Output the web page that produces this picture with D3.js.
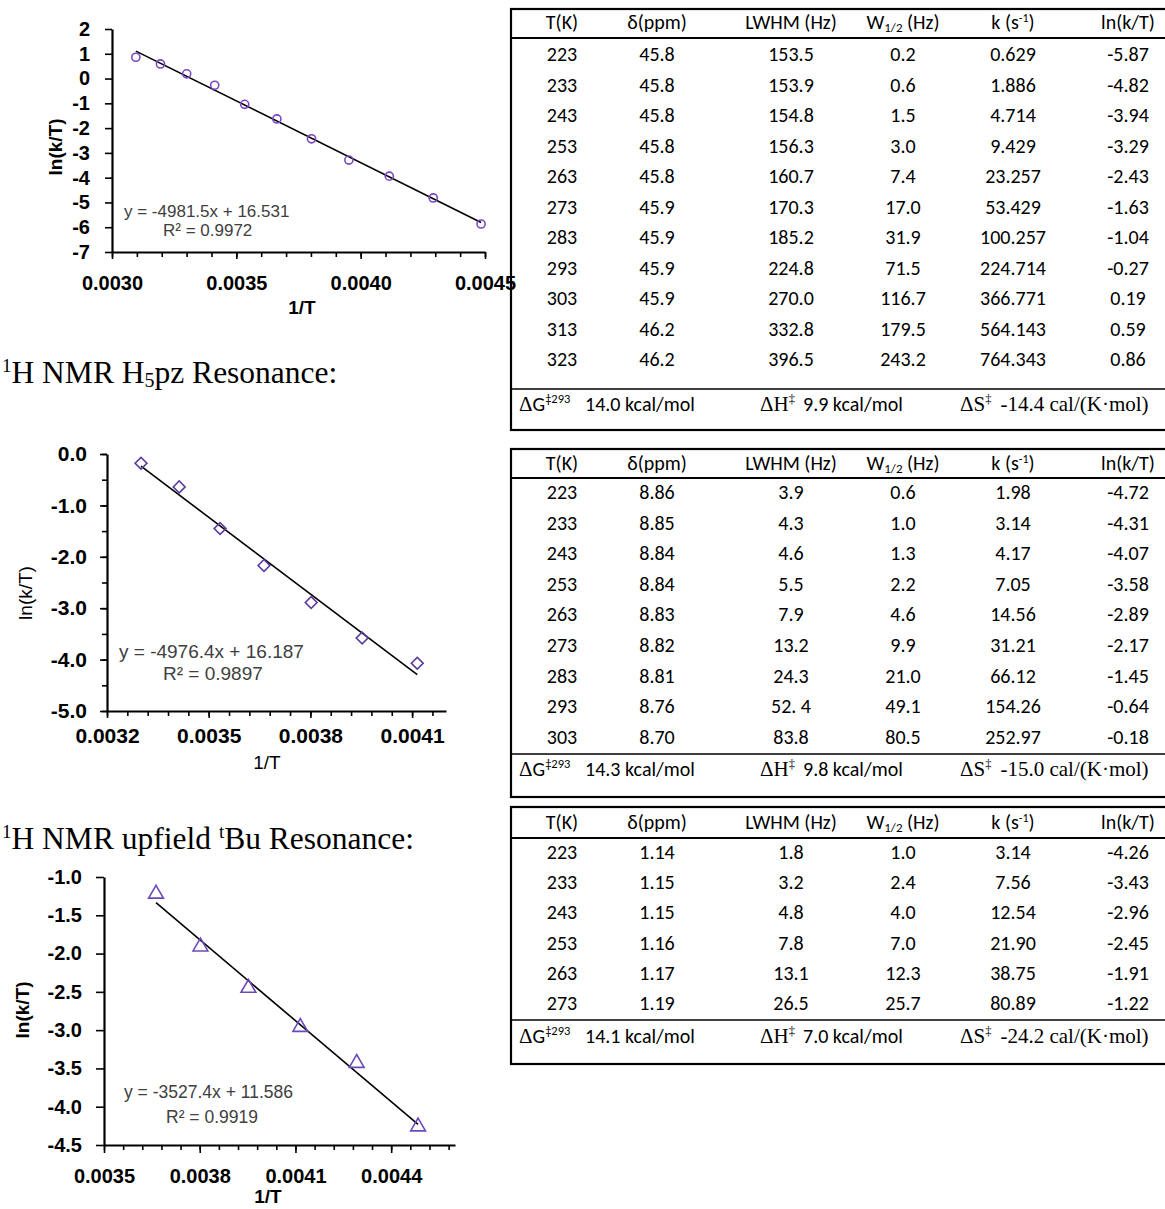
<!DOCTYPE html>
<html>
<head>
<meta charset="utf-8">
<script src="https://cdn.jsdelivr.net/npm/d3@7"></script>
<style>
  body { margin: 0; background: #fff; }
  svg { display: block; }
</style>
</head>
<body>
<div id="chart"></div>
<script>
var w = 1165,
	h = 1209;

// ---- plot data (1/T from temperature, y = ln(k/T)) ----
var plot1T = [323, 313, 303, 293, 283, 273, 263, 253, 243, 233, 223];
var plot1Y = [0.86, 0.59, 0.19, -0.27, -1.04, -1.63, -2.43, -3.29, -3.94, -4.82, -5.87];
var plot2T = [303, 293, 283, 273, 263, 253, 243];
var plot2Y = [-0.18, -0.64, -1.45, -2.17, -2.89, -3.58, -4.07];
var plot3T = [273, 263, 253, 243, 233, 223];
var plot3Y = [-1.22, -1.91, -2.45, -2.96, -3.43, -4.26];

// trendline coefficients as printed on the charts
var fit1 = [-4981.5, 16.531];
var fit2 = [-4976.4, 16.187];
var fit3 = [-3527.4, 11.586];
var eq1 = ["y = -4981.5x + 16.531", "R\u00B2 = 0.9972"];
var eq2 = ["y = -4976.4x + 16.187", "R\u00B2 = 0.9897"];
var eq3 = ["y = -3527.4x + 11.586", "R\u00B2 = 0.9919"];

// tick labels
var x1Ticks = ["0.0030", "0.0035", "0.0040", "0.0045"];
var y1Ticks = ["2", "1", "0", "-1", "-2", "-3", "-4", "-5", "-6", "-7"];
var x2Ticks = ["0.0032", "0.0035", "0.0038", "0.0041"];
var y2Ticks = ["0.0", "-1.0", "-2.0", "-3.0", "-4.0", "-5.0"];
var x3Ticks = ["0.0035", "0.0038", "0.0041", "0.0044"];
var y3Ticks = ["-1.0", "-1.5", "-2.0", "-2.5", "-3.0", "-3.5", "-4.0", "-4.5"];

// ---- table data ----
var tab1T = ["223", "233", "243", "253", "263", "273", "283", "293", "303", "313", "323"];
var tab1Shift = ["45.8", "45.8", "45.8", "45.8", "45.8", "45.9", "45.9", "45.9", "45.9", "46.2", "46.2"];
var tab1Lwhm = ["153.5", "153.9", "154.8", "156.3", "160.7", "170.3", "185.2", "224.8", "270.0", "332.8", "396.5"];
var tab1Whalf = ["0.2", "0.6", "1.5", "3.0", "7.4", "17.0", "31.9", "71.5", "116.7", "179.5", "243.2"];
var tab1K = ["0.629", "1.886", "4.714", "9.429", "23.257", "53.429", "100.257", "224.714", "366.771", "564.143", "764.343"];
var tab1Ln = ["-5.87", "-4.82", "-3.94", "-3.29", "-2.43", "-1.63", "-1.04", "-0.27", "0.19", "0.59", "0.86"];
var tab1Thermo = ["14.0 kcal/mol", "9.9 kcal/mol", "-14.4 cal/(K\u00B7mol)"];

var tab2T = ["223", "233", "243", "253", "263", "273", "283", "293", "303"];
var tab2Shift = ["8.86", "8.85", "8.84", "8.84", "8.83", "8.82", "8.81", "8.76", "8.70"];
var tab2Lwhm = ["3.9", "4.3", "4.6", "5.5", "7.9", "13.2", "24.3", "52. 4", "83.8"];
var tab2Whalf = ["0.6", "1.0", "1.3", "2.2", "4.6", "9.9", "21.0", "49.1", "80.5"];
var tab2K = ["1.98", "3.14", "4.17", "7.05", "14.56", "31.21", "66.12", "154.26", "252.97"];
var tab2Ln = ["-4.72", "-4.31", "-4.07", "-3.58", "-2.89", "-2.17", "-1.45", "-0.64", "-0.18"];
var tab2Thermo = ["14.3 kcal/mol", "9.8 kcal/mol", "-15.0 cal/(K\u00B7mol)"];

var tab3T = ["223", "233", "243", "253", "263", "273"];
var tab3Shift = ["1.14", "1.15", "1.15", "1.16", "1.17", "1.19"];
var tab3Lwhm = ["1.8", "3.2", "4.8", "7.8", "13.1", "26.5"];
var tab3Whalf = ["1.0", "2.4", "4.0", "7.0", "12.3", "25.7"];
var tab3K = ["3.14", "7.56", "12.54", "21.90", "38.75", "80.89"];
var tab3Ln = ["-4.26", "-3.43", "-2.96", "-2.45", "-1.91", "-1.22"];
var tab3Thermo = ["14.1 kcal/mol", "7.0 kcal/mol", "-24.2 cal/(K\u00B7mol)"];

var sansFont = "'Liberation Sans', Arial, sans-serif";
var tableFont = "Carlito, 'Liberation Sans Narrow', 'DejaVu Sans Condensed', sans-serif";
var serifFont = "'Liberation Serif', 'Times New Roman', serif";

var root = d3.select("#chart").append("svg").attr("width", w).attr("height", h)
	.style("background", "#fff");

function drawChart(o) {
	var g = root.append("g");
	var x = d3.scaleLinear().domain(o.xDomain).range([o.left, o.right]);
	var y = d3.scaleLinear().domain(o.yDomain).range([o.bottom, o.top]);

	// minor ticks first
	if (o.xMinor) {
		var n = Math.round((o.xDomain[1] - o.xDomain[0]) / o.xMinor);
		var xm = d3.range(0, n + 1).map(function(i) { return o.xMinor0 + i * o.xMinor; })
			.filter(function(v) { return v <= o.xDomain[1] + 1e-9; });
		g.append("g").attr("transform", "translate(0," + o.bottom + ")")
			.call(d3.axisBottom(x).tickValues(xm).tickSize(o.minorLen).tickFormat(""))
			.call(function(a) { a.select(".domain").remove(); a.selectAll("line").attr("stroke-width", 1.6); });
	}
	if (o.yMinor) {
		var m = Math.round((o.yDomain[1] - o.yDomain[0]) / o.yMinor);
		var ym = d3.range(0, m + 1).map(function(i) { return o.yDomain[0] + i * o.yMinor; });
		g.append("g").attr("transform", "translate(" + o.left + ",0)")
			.call(d3.axisLeft(y).tickValues(ym).tickSize(o.minorLen).tickFormat(""))
			.call(function(a) { a.select(".domain").remove(); a.selectAll("line").attr("stroke-width", 1.6); });
	}

	var xa = g.append("g").attr("transform", "translate(0," + o.bottom + ")")
		.call(d3.axisBottom(x).tickValues(o.xTicks.map(Number)).tickSize(o.majorLen)
			.tickSizeOuter(0).tickPadding(o.xPad)
			.tickFormat(function(d, i) { return o.xTicks[i]; }));
	var ya = g.append("g").attr("transform", "translate(" + o.left + ",0)")
		.call(d3.axisLeft(y).tickValues(o.yTicks.map(Number)).tickSize(o.majorLen)
			.tickSizeOuter(0).tickPadding(o.yPad)
			.tickFormat(function(d, i) { return o.yTicks[i]; }));
	[xa, ya].forEach(function(a) {
		a.select(".domain").attr("stroke-width", 2.2);
		a.selectAll("line").attr("stroke-width", 1.6);
		a.selectAll("text").style("font-family", o.tickFont).style("font-size", o.tickSize + "px")
			.style("font-weight", "bold").attr("fill", "#000");
	});

	// axis titles
	g.append("text").attr("x", o.xTitle[0]).attr("y", o.xTitle[1]).attr("text-anchor", "middle")
		.attr("dy", "0.35em").style("font-family", o.tickFont).style("font-size", o.titleSize + "px")
		.style("font-weight", o.titleWeight).text("1/T");
	g.append("text").attr("transform", "translate(" + o.yTitle[0] + "," + o.yTitle[1] + ") rotate(-90)")
		.attr("text-anchor", "middle").attr("dy", "0.35em").style("font-family", o.tickFont)
		.style("font-size", o.titleSize + "px").style("font-weight", o.titleWeight).text("ln(k/T)");

	// trendline from first to last point
	var xs = o.temps.map(function(t) { return 1 / t; });
	var x0 = d3.min(xs), x1 = d3.max(xs);
	g.append("line").attr("x1", x(x0)).attr("y1", y(o.fit[0] * x0 + o.fit[1]))
		.attr("x2", x(x1)).attr("y2", y(o.fit[0] * x1 + o.fit[1]))
		.style("stroke", "#000").style("stroke-width", 1.6);

	// markers
	var sym = d3.symbol().type(o.symbol).size(o.symbolSize);
	g.selectAll(".pt").data(o.values).enter().append("path")
		.attr("d", sym)
		.attr("transform", function(d, i) {
			return "translate(" + x(xs[i]) + "," + y(d) + ")" + (o.rotate ? " rotate(45)" : "");
		})
		.style("fill", "none").style("stroke", o.color).style("stroke-width", 1.6);

	// equation text
	g.append("text").attr("x", o.eqPos[0]).attr("y", o.eqPos[1]).style("font-family", o.eqFont)
		.style("font-size", o.eqSize + "px").attr("fill", "#404040").text(o.eq[0]);
	g.append("text").attr("x", o.eqPos[2]).attr("y", o.eqPos[3]).style("font-family", o.eqFont)
		.style("font-size", o.eqSize + "px").attr("fill", "#404040").text(o.eq[1]);
}

drawChart({
	left: 112, right: 485, top: 29, bottom: 252,
	xDomain: [0.0030, 0.0045], yDomain: [-7, 2],
	xTicks: x1Ticks, yTicks: y1Ticks, xMinor: 0.0001, xMinor0: 0.0030, yMinor: null,
	majorLen: 7, minorLen: 5, xPad: 17, yPad: 15,
	tickFont: sansFont, tickSize: 20, titleSize: 19, titleWeight: "bold",
	xTitle: [302, 307], yTitle: [55, 147],
	temps: plot1T, values: plot1Y, fit: fit1,
	symbol: d3.symbolCircle, symbolSize: 52, rotate: false, color: "#7a48c2",
	eq: eq1, eqFont: sansFont, eqSize: 17, eqPos: [124, 217, 163, 236]
});

drawChart({
	left: 107, right: 446, top: 454, bottom: 711,
	xDomain: [0.0032, 0.0042], yDomain: [-5, 0],
	xTicks: x2Ticks, yTicks: y2Ticks, xMinor: 0.00006, xMinor0: 0.0032, yMinor: 0.5,
	majorLen: 7, minorLen: 5, xPad: 10, yPad: 13,
	tickFont: sansFont, tickSize: 21, titleSize: 19, titleWeight: "normal",
	xTitle: [267, 762], yTitle: [25, 593],
	temps: plot2T, values: plot2Y, fit: fit2,
	symbol: d3.symbolSquare, symbolSize: 70, rotate: true, color: "#5a3c9e",
	eq: eq2, eqFont: sansFont, eqSize: 19, eqPos: [119, 658, 163, 680]
});

drawChart({
	left: 104, right: 455, top: 877, bottom: 1145,
	xDomain: [0.0035, 0.0046], yDomain: [-4.5, -1.0],
	xTicks: x3Ticks, yTicks: y3Ticks, xMinor: 0.00006, xMinor0: 0.0035, yMinor: null,
	majorLen: 8, minorLen: 5, xPad: 16, yPad: 14,
	tickFont: sansFont, tickSize: 20, titleSize: 19, titleWeight: "bold",
	xTitle: [268, 1196], yTitle: [22, 1010],
	temps: plot3T, values: plot3Y, fit: fit3,
	symbol: d3.symbolTriangle, symbolSize: 95, rotate: false, color: "#6a4ab8",
	eq: eq3, eqFont: sansFont, eqSize: 17.5, eqPos: [124, 1098, 166, 1123]
});

// section titles
function sectionTitle(yy, parts) {
	var t = root.append("text").attr("x", 2).attr("y", yy)
		.style("font-family", serifFont).style("font-size", "31.5px").attr("fill", "#000");
	parts.forEach(function(p) {
		var s = t.append("tspan").text(p[0]);
		if (p[1] === "sup") s.style("font-size", "19px").attr("baseline-shift", "60%");
		if (p[1] === "sub") s.style("font-size", "20px").attr("baseline-shift", "-20%");
	});
}
sectionTitle(383, [["1", "sup"], ["H NMR H"], ["5", "sub"], ["pz Resonance:"]]);
sectionTitle(849, [["1", "sup"], ["H NMR upfield "], ["t", "sup"], ["Bu Resonance:"]]);

// ---- tables ----
var colX = [562, 657, 791, 903, 1013, 1128];

function drawTable(o) {
	var g = root.append("g").style("font-family", tableFont).style("font-size", "20px");
	var left = 511, right = 1175;
	g.append("rect").attr("x", left).attr("y", o.top).attr("width", right - left)
		.attr("height", o.bottom - o.top).style("fill", "none").style("stroke", "#000").style("stroke-width", 2.2);
	g.append("line").attr("x1", left).attr("x2", right).attr("y1", o.headLine).attr("y2", o.headLine)
		.style("stroke", "#000").style("stroke-width", 2.2);
	g.append("line").attr("x1", left).attr("x2", right).attr("y1", o.sep).attr("y2", o.sep)
		.style("stroke", "#000").style("stroke-width", 1.6);

	// header
	var hd = g.append("g").attr("text-anchor", "middle");
	hd.append("text").attr("x", colX[0]).attr("y", o.headY).attr("dy", "0.35em").text("T(K)");
	hd.append("text").attr("x", colX[1]).attr("y", o.headY).attr("dy", "0.35em").text("\u03B4(ppm)");
	hd.append("text").attr("x", colX[2]).attr("y", o.headY).attr("dy", "0.35em").text("LWHM (Hz)");
	var wt = hd.append("text").attr("x", colX[3]).attr("y", o.headY).attr("dy", "0.35em");
	wt.append("tspan").text("W");
	wt.append("tspan").text("1/2").style("font-size", "13px").attr("baseline-shift", "-25%");
	wt.append("tspan").text(" (Hz)");
	var kt = hd.append("text").attr("x", colX[4]).attr("y", o.headY).attr("dy", "0.35em");
	kt.append("tspan").text("k (s");
	kt.append("tspan").text("-1").style("font-size", "12px").attr("baseline-shift", "55%");
	kt.append("tspan").text(")");
	hd.append("text").attr("x", colX[5]).attr("y", o.headY).attr("dy", "0.35em").text("ln(k/T)");

	// body
	o.cols.forEach(function(col, ci) {
		g.append("g").attr("text-anchor", "middle").selectAll("text").data(col).enter().append("text")
			.attr("x", colX[ci])
			.attr("y", function(d, i) { return o.row0 + i * o.step; })
			.attr("dy", "0.35em").text(function(d) { return d; });
	});

	// activation parameters row
	var ty = o.thermoY;
	var a = g.append("text").attr("x", 519).attr("y", ty).attr("dy", "0.35em");
	a.append("tspan").text("\u0394").style("font-family", serifFont).style("font-size", "21px");
	a.append("tspan").text("G");
	a.append("tspan").text("\u2021293").style("font-size", "12.5px").attr("baseline-shift", "60%");
	g.append("text").attr("x", 585).attr("y", ty).attr("dy", "0.35em").text(o.thermo[0]);

	var b = g.append("text").attr("x", 760).attr("y", ty).attr("dy", "0.35em")
		.style("font-family", serifFont).style("font-size", "21px");
	b.append("tspan").text("\u0394H");
	b.append("tspan").text("\u2021").style("font-size", "12.5px").attr("baseline-shift", "60%");
	g.append("text").attr("x", 803).attr("y", ty).attr("dy", "0.35em").text(o.thermo[1]);

	var c = g.append("text").attr("x", 960).attr("y", ty).attr("dy", "0.35em")
		.style("font-family", serifFont).style("font-size", "21px");
	c.append("tspan").text("\u0394S");
	c.append("tspan").text("\u2021").style("font-size", "12.5px").attr("baseline-shift", "60%");
	c.append("tspan").text(o.thermo[2]).attr("dx", 9);
}

drawTable({
	top: 9, headY: 22, headLine: 38, row0: 54, step: 30.5, sep: 389, thermoY: 404, bottom: 430,
	cols: [tab1T, tab1Shift, tab1Lwhm, tab1Whalf, tab1K, tab1Ln], thermo: tab1Thermo
});
drawTable({
	top: 449, headY: 463, headLine: 478, row0: 492, step: 30.6, sep: 754, thermoY: 769, bottom: 797,
	cols: [tab2T, tab2Shift, tab2Lwhm, tab2Whalf, tab2K, tab2Ln], thermo: tab2Thermo
});
drawTable({
	top: 807, headY: 822, headLine: 838, row0: 852, step: 30.2, sep: 1020, thermoY: 1036, bottom: 1064,
	cols: [tab3T, tab3Shift, tab3Lwhm, tab3Whalf, tab3K, tab3Ln], thermo: tab3Thermo
});
</script>
</body>
</html>
